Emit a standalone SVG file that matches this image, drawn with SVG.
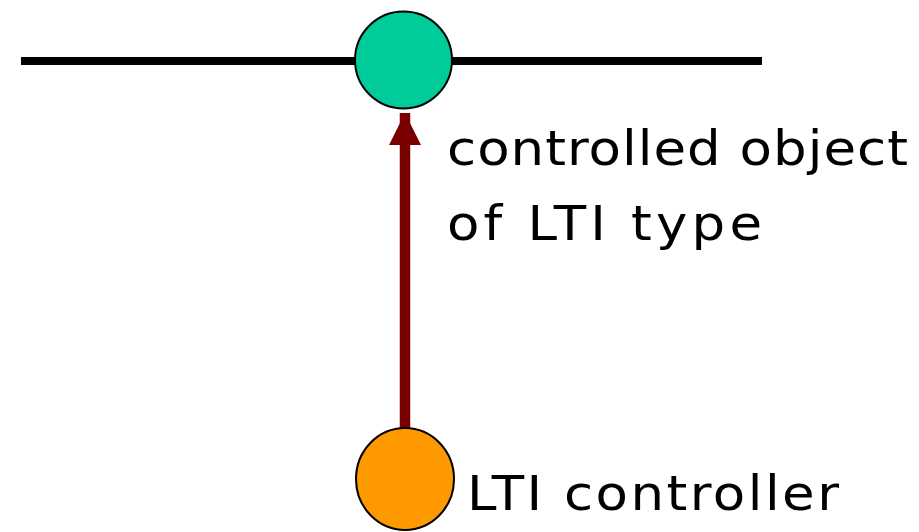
<svg xmlns="http://www.w3.org/2000/svg" width="919" height="532" viewBox="0 0 919 532">
<style>
.lbl{font-family:"DejaVu Sans","Verdana",sans-serif;font-size:53px;fill:#000}
.node{stroke:#000;stroke-width:2}
</style>
<defs>
<marker id="ah" markerUnits="userSpaceOnUse" markerWidth="32" markerHeight="32" refX="32" refY="16" orient="auto" viewBox="0 0 32 32">
<path d="M0,0 L32,16 L0,32 Z" fill="#7a0000"/>
</marker>
</defs>
<g id="line">
<line x1="21" y1="61" x2="762" y2="61" stroke="#000" stroke-width="8"/>
</g>
<g id="connectors">
<line x1="405" y1="428" x2="405" y2="113" stroke="#7a0000" stroke-width="10.5" marker-end="url(#ah)"/>
</g>
<g id="object">
<circle class="node" cx="403.5" cy="60" r="48.5" fill="#00cc99"/>
<text class="lbl" transform="translate(447 165) scale(1 0.92)" textLength="461" lengthAdjust="spacing">controlled object</text>
<text class="lbl" transform="translate(447 240) scale(1 0.92)" textLength="315" lengthAdjust="spacing">of LTI type</text>
</g>
<g id="controller">
<ellipse class="node" cx="405" cy="479" rx="49" ry="51" fill="#ff9900"/>
<text class="lbl" transform="translate(467 510) scale(1 0.92)" textLength="372" lengthAdjust="spacing">LTI controller</text>
</g>
</svg>
